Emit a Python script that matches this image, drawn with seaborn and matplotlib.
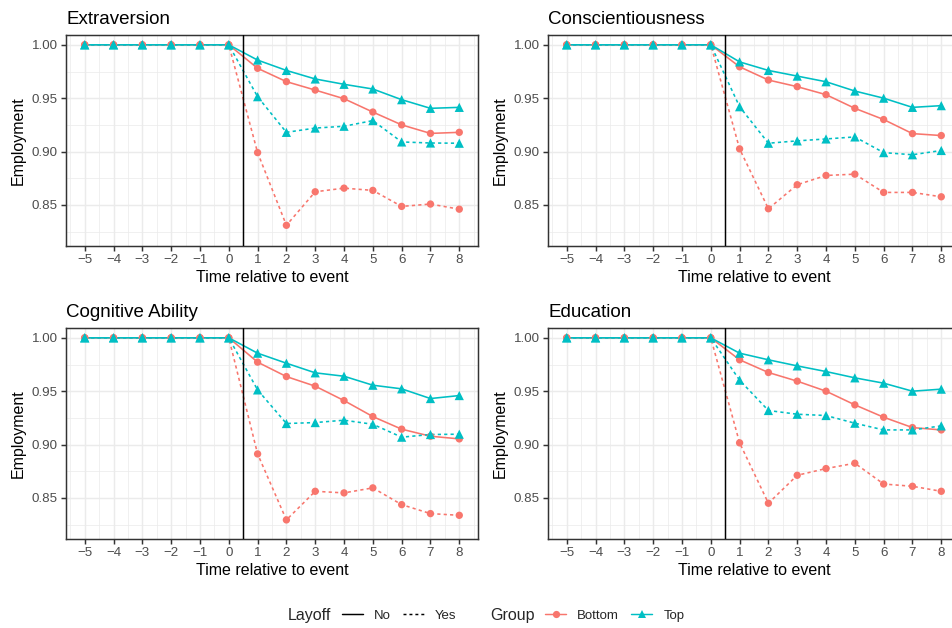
import numpy as np
import pandas as pd
import matplotlib
matplotlib.use("Agg")
import matplotlib.pyplot as plt
import seaborn as sns
from matplotlib.lines import Line2D
from matplotlib.ticker import MultipleLocator, FormatStrFormatter, FixedLocator

# ---------------- data ----------------
time = list(range(-5, 9))
panels = ["Extraversion", "Conscientiousness", "Cognitive Ability", "Education"]
groups = ["Bottom", "Top"]
layoffs = ["No", "Yes"]

pre = [1.0, 1.0, 1.0, 1.0, 1.0, 1.0]  # t = -5 .. 0

extra_bottom_no  = pre + [0.978, 0.9655, 0.9576, 0.9495, 0.937, 0.925, 0.917, 0.918]
extra_top_no     = pre + [0.9857, 0.976, 0.968, 0.963, 0.9586, 0.9486, 0.9405, 0.9414]
extra_bottom_yes = pre + [0.899, 0.8309, 0.8623, 0.8657, 0.8636, 0.8486, 0.8508, 0.846]
extra_top_yes    = pre + [0.9514, 0.918, 0.922, 0.9237, 0.929, 0.909, 0.908, 0.9078]

consc_bottom_no  = pre + [0.9794, 0.967, 0.9608, 0.9533, 0.9405, 0.930, 0.9168, 0.915]
consc_top_no     = pre + [0.984, 0.976, 0.9707, 0.9654, 0.9567, 0.950, 0.9414, 0.943]
consc_bottom_yes = pre + [0.9025, 0.8464, 0.8689, 0.8776, 0.8788, 0.8617, 0.8617, 0.8576]
consc_top_yes    = pre + [0.942, 0.9078, 0.910, 0.9118, 0.9137, 0.899, 0.897, 0.901]

cog_bottom_no  = pre + [0.9772, 0.9637, 0.9547, 0.9412, 0.9262, 0.9144, 0.9078, 0.9053]
cog_top_no     = pre + [0.9856, 0.9762, 0.9672, 0.964, 0.9556, 0.9522, 0.9431, 0.9459]
cog_bottom_yes = pre + [0.8912, 0.8294, 0.8562, 0.8547, 0.8594, 0.8437, 0.8353, 0.8337]
cog_top_yes    = pre + [0.9512, 0.9197, 0.9206, 0.9228, 0.919, 0.9069, 0.9094, 0.9097]

edu_bottom_no  = pre + [0.9794, 0.9675, 0.9594, 0.950, 0.9372, 0.9256, 0.9159, 0.9137]
edu_top_no     = pre + [0.9856, 0.9794, 0.9737, 0.9684, 0.9625, 0.9575, 0.950, 0.9519]
edu_bottom_yes = pre + [0.9016, 0.845, 0.8712, 0.8775, 0.8825, 0.863, 0.8609, 0.8562]
edu_top_yes    = pre + [0.9603, 0.9319, 0.9284, 0.9272, 0.920, 0.9137, 0.9137, 0.9175]

series = {
    "Extraversion": {("Bottom", "No"): extra_bottom_no, ("Top", "No"): extra_top_no,
                     ("Bottom", "Yes"): extra_bottom_yes, ("Top", "Yes"): extra_top_yes},
    "Conscientiousness": {("Bottom", "No"): consc_bottom_no, ("Top", "No"): consc_top_no,
                          ("Bottom", "Yes"): consc_bottom_yes, ("Top", "Yes"): consc_top_yes},
    "Cognitive Ability": {("Bottom", "No"): cog_bottom_no, ("Top", "No"): cog_top_no,
                          ("Bottom", "Yes"): cog_bottom_yes, ("Top", "Yes"): cog_top_yes},
    "Education": {("Bottom", "No"): edu_bottom_no, ("Top", "No"): edu_top_no,
                  ("Bottom", "Yes"): edu_bottom_yes, ("Top", "Yes"): edu_top_yes},
}

rows = []
for p in panels:
    for g in groups:
        for l in layoffs:
            for t, v in zip(time, series[p][(g, l)]):
                rows.append({"panel": p, "Group": g, "Layoff": l, "time": t, "emp": v})
df = pd.DataFrame(rows)

# ---------------- style ----------------
sns.set_style("white")
plt.rcParams["font.family"] = ["Liberation Sans", "DejaVu Sans"]
plt.rcParams["axes.unicode_minus"] = True

pal = {"Bottom": "#F8766D", "Top": "#00BFC4"}
grid_col = "#EBEBEB"
border_col = "#333333"
tick_col = "#4D4D4D"
LW = 1.07

W, H = 952, 628
fig = plt.figure(figsize=(W / 100, H / 100), dpi=100)

ax_w = 412 / W
ax_h = 211 / H
lefts = [66 / W, 548 / W]
bottoms = [1 - 246 / H, 1 - 539 / H]

for i, p in enumerate(panels):
    r, c = divmod(i, 2)
    ax = fig.add_axes([lefts[c], bottoms[r], ax_w, ax_h])
    d = df[df.panel == p]

    ax.set_xlim(-5.65, 8.65)
    ax.set_ylim(0.8115, 1.0092)

    ax.xaxis.set_major_locator(MultipleLocator(1))
    ax.xaxis.set_minor_locator(FixedLocator(np.arange(-5.5, 9, 1.0)))
    ax.yaxis.set_major_locator(FixedLocator([0.85, 0.90, 0.95, 1.00]))
    ax.yaxis.set_minor_locator(FixedLocator([0.825, 0.875, 0.925, 0.975]))
    ax.yaxis.set_major_formatter(FormatStrFormatter("%.2f"))

    ax.grid(which="major", color=grid_col, lw=LW, zorder=0)
    ax.grid(which="minor", color=grid_col, lw=LW / 2, zorder=0)
    ax.set_axisbelow(True)

    sns.lineplot(data=d, x="time", y="emp", hue="Group", style="Layoff",
                 hue_order=groups, style_order=layoffs, palette=pal,
                 dashes={"No": "", "Yes": (2, 2)}, linewidth=1.15,
                 errorbar=None, legend=False, ax=ax, zorder=2)
    sns.scatterplot(data=d, x="time", y="emp", hue="Group", style="Group",
                    size="Group", sizes={"Bottom": 28, "Top": 44},
                    hue_order=groups, style_order=groups, size_order=groups,
                    palette=pal, markers={"Bottom": "o", "Top": "^"}, linewidth=0,
                    legend=False, ax=ax, zorder=3)
    ax.axvline(0.5, color="black", lw=LW, zorder=4)

    for s in ax.spines.values():
        s.set_color(border_col)
        s.set_linewidth(LW)
        s.set_visible(True)
    ax.tick_params(which="major", bottom=True, left=True, length=3.8, width=LW,
                   color=border_col, labelcolor=tick_col, labelsize=9.6, pad=2.2)
    ax.tick_params(which="minor", bottom=False, left=False, length=0)

    ax.set_xlabel("Time relative to event", fontsize=11.5, color="black", labelpad=2.5)
    ax.set_ylabel("Employment", fontsize=11.5, color="black", labelpad=4)
    ax.set_title(p, loc="left", fontsize=13.5, pad=8, color="black")

# ---------------- legend ----------------
ly = 1 - 615.7 / H
fig.text(288 / W, ly, "Layoff", fontsize=11.5, va="center", ha="left")
fig.text(490 / W, ly, "Group", fontsize=11.5, va="center", ha="left")

h_lay = [Line2D([], [], color="black", lw=LW, linestyle="-"),
         Line2D([], [], color="black", lw=LW, linestyle=(0, (2, 2)))]
leg1 = fig.legend(h_lay, ["No", "Yes"], ncol=2, frameon=False, fontsize=9.5,
                  loc="center left", bbox_to_anchor=(341.7 / W, ly),
                  borderpad=0, borderaxespad=0, handlelength=1.6,
                  handletextpad=0.85, columnspacing=0.9)
h_grp = [Line2D([], [], color=pal["Bottom"], lw=LW, marker="o", markersize=5.2, markeredgewidth=0),
         Line2D([], [], color=pal["Top"], lw=LW, marker="^", markersize=6.2, markeredgewidth=0)]
leg2 = fig.legend(h_grp, ["Bottom", "Top"], ncol=2, frameon=False, fontsize=9.5,
                  loc="center left", bbox_to_anchor=(545 / W, ly),
                  borderpad=0, borderaxespad=0, handlelength=1.6,
                  handletextpad=0.85, columnspacing=0.9, numpoints=1)

fig.savefig("out.png", dpi=100)
